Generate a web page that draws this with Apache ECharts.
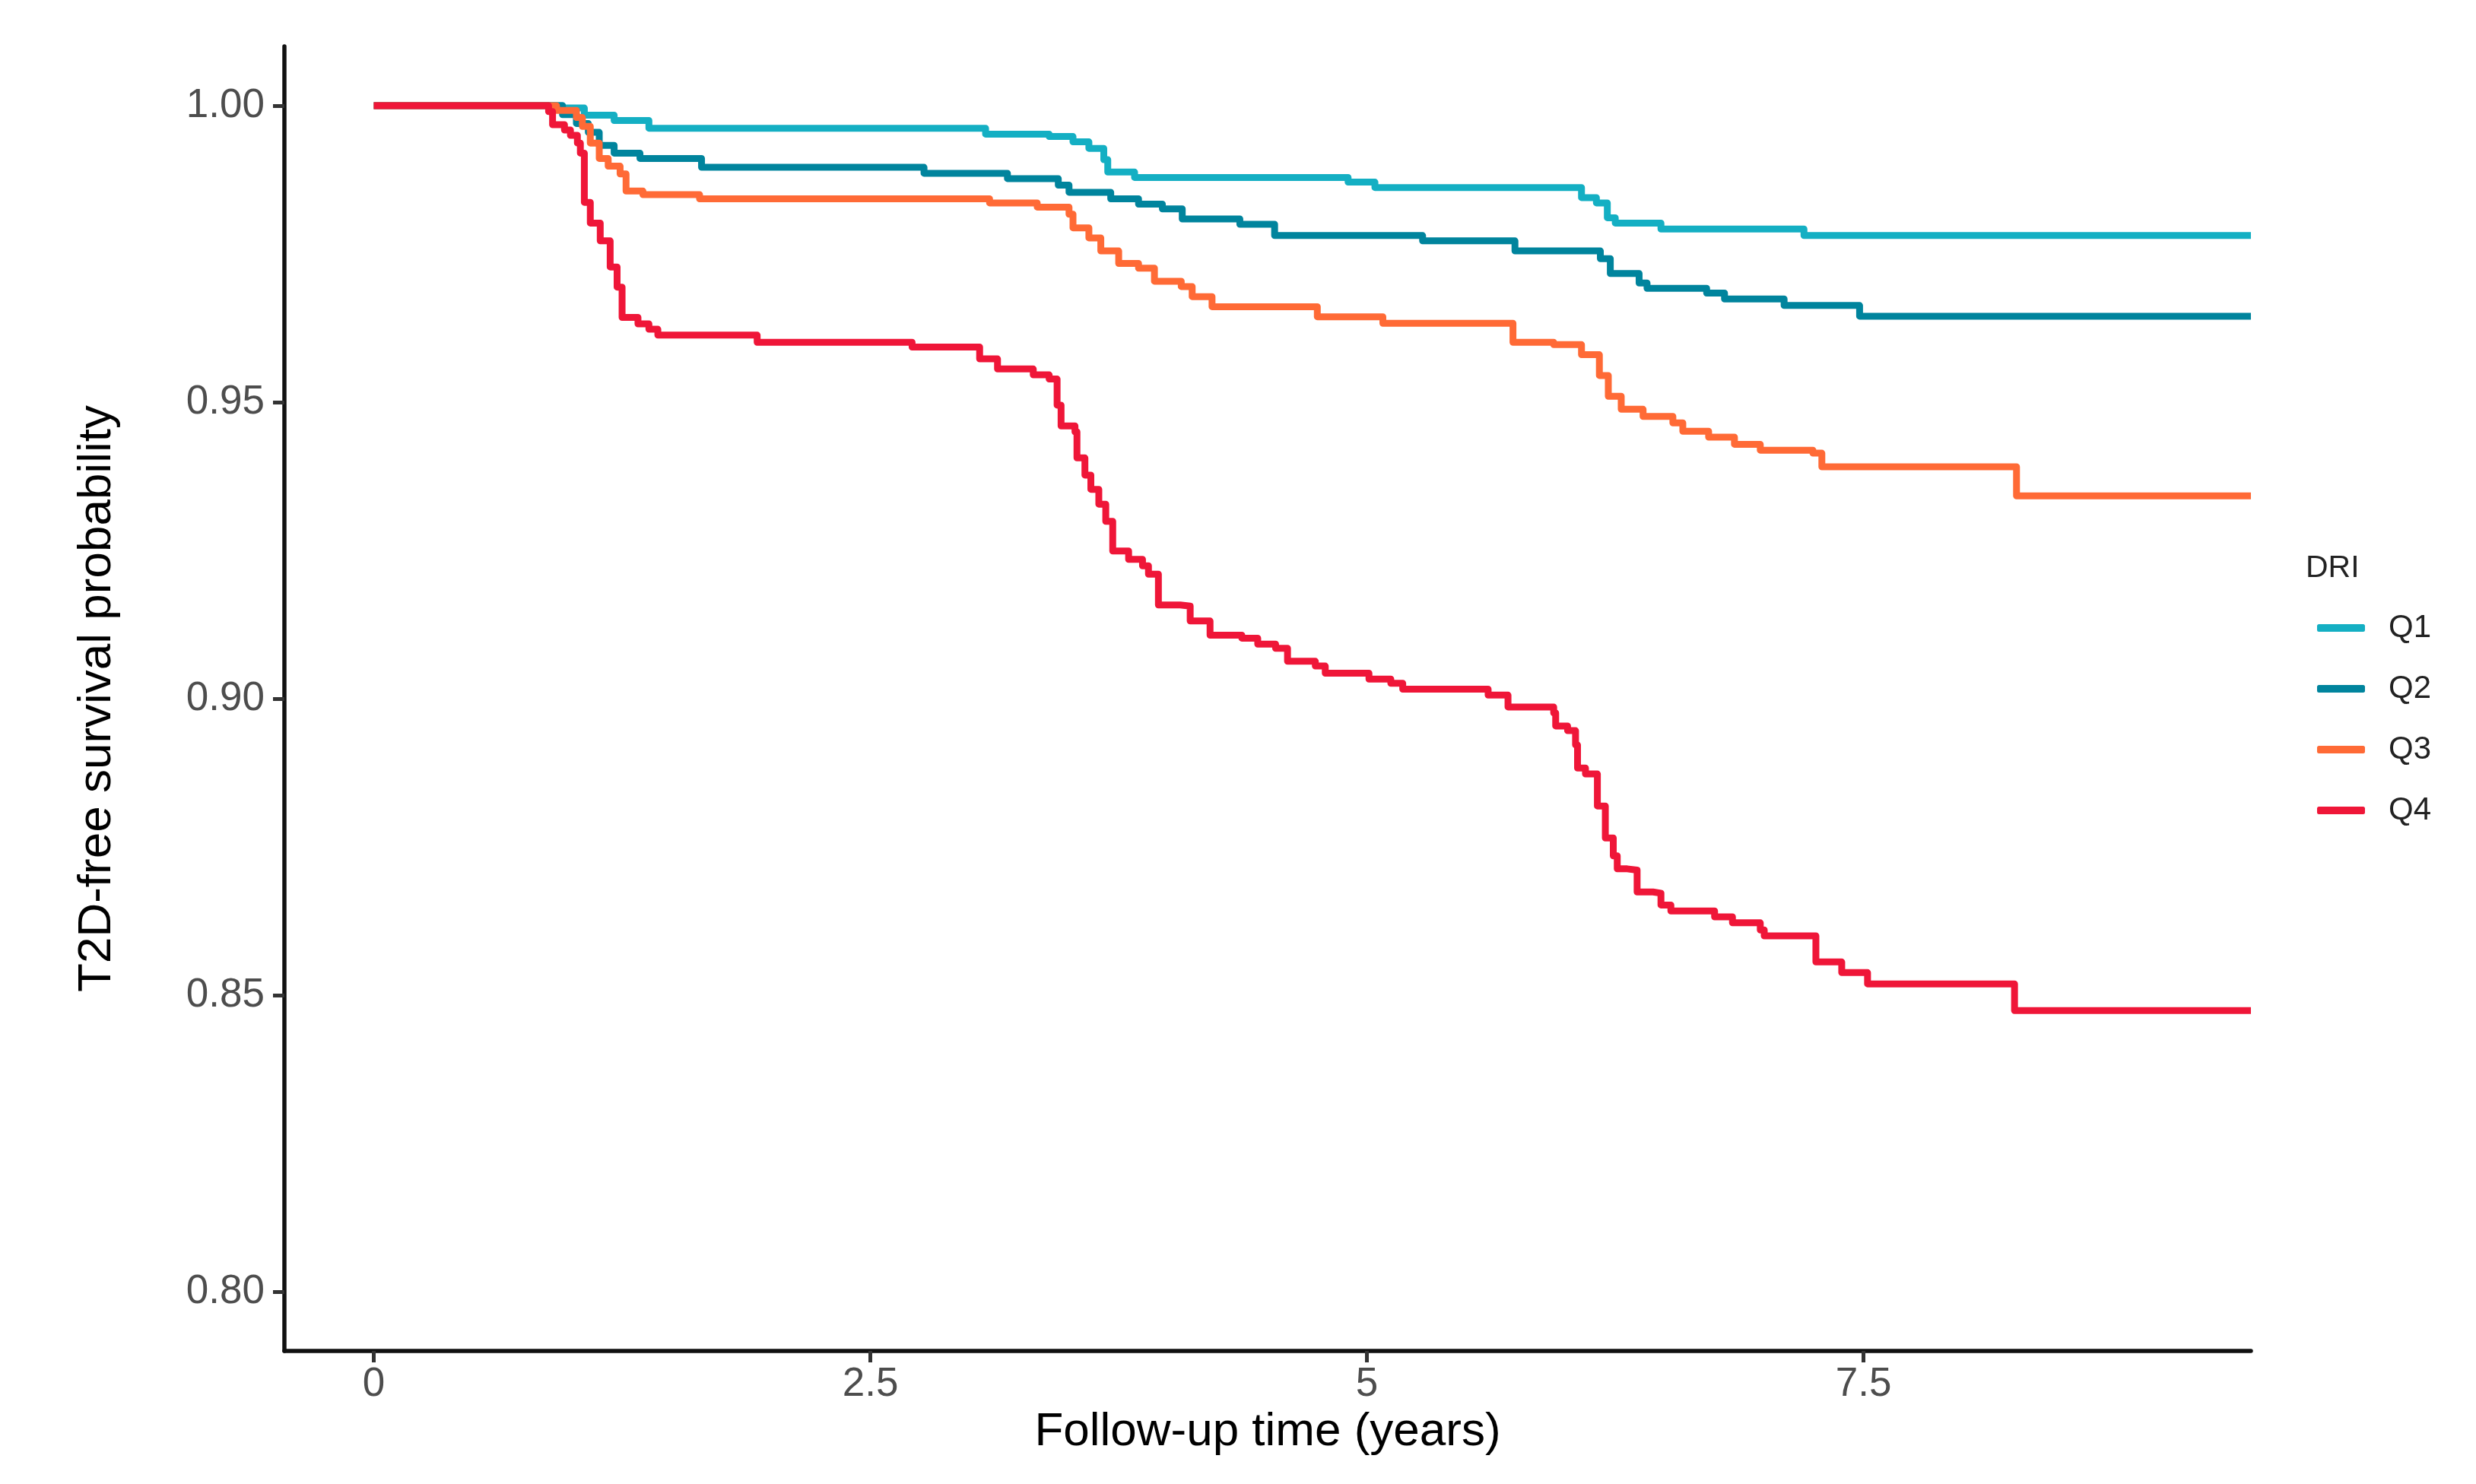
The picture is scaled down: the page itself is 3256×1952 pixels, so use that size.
<!DOCTYPE html>
<html><head><meta charset="utf-8">
<script src="https://cdn.jsdelivr.net/npm/echarts@6/dist/echarts.min.js"></script>
<style>html,body{margin:0;padding:0;background:#fff}#c{width:3256px;height:1952px}</style>
</head><body><div id="c"></div>
<script>
// Follow-up time (years) and T2D-free survival probability per DRI quartile
const seriesNames = ['Q1', 'Q2', 'Q3', 'Q4'];
const xTicks = [0, 2.5, 5, 7.5];
const yTicks = [0.80, 0.85, 0.90, 0.95, 1.00];

const q1Time = [0, 0.88, 0.95, 1.06, 1.21, 1.385, 3.08, 3.40, 3.52, 3.60, 3.675, 3.695, 3.83, 4.905, 5.04, 6.08, 6.155, 6.21, 6.25, 6.48, 7.20, 9.45];
const q1Surv = [1, 1, 0.9996, 0.9984, 0.9975, 0.9962, 0.9952, 0.9948, 0.9939, 0.9928, 0.9909, 0.9888, 0.9879, 0.9871, 0.9862, 0.9845, 0.9836, 0.9811, 0.9802, 0.9792, 0.9781, 0.9781];

const q2Time = [0, 0.88, 0.95, 1.02, 1.08, 1.135, 1.21, 1.34, 1.65, 2.77, 3.19, 3.446, 3.50, 3.71, 3.85, 3.97, 4.07, 4.36, 4.535, 5.28, 5.745, 6.175, 6.225, 6.37, 6.41, 6.71, 6.80, 7.10, 7.48, 9.45];
const q2Surv = [1, 1, 0.9985, 0.997, 0.9955, 0.9933, 0.992, 0.9911, 0.9896, 0.9886, 0.9877, 0.9866, 0.9854, 0.9843, 0.9834, 0.9826, 0.9809, 0.98, 0.9781, 0.9772, 0.9755, 0.9742, 0.9717, 0.9701, 0.9692, 0.9684, 0.9674, 0.9663, 0.9645, 0.9645];

const q3Time = [0, 0.88, 0.92, 1.02, 1.05, 1.09, 1.135, 1.18, 1.24, 1.27, 1.355, 1.64, 3.10, 3.34, 3.50, 3.52, 3.60, 3.66, 3.75, 3.85, 3.93, 4.065, 4.12, 4.22, 4.75, 5.08, 5.735, 5.94, 6.08, 6.17, 6.215, 6.28, 6.39, 6.54, 6.59, 6.72, 6.85, 6.98, 7.245, 7.29, 8.27, 9.45];
const q3Surv = [1, 1, 0.9992, 0.998, 0.9965, 0.9937, 0.9911, 0.9898, 0.9885, 0.9856, 0.985, 0.9843, 0.9836, 0.9829, 0.9817, 0.9794, 0.9777, 0.9755, 0.9734, 0.9726, 0.9704, 0.9695, 0.9678, 0.9661, 0.9644, 0.9633, 0.9601, 0.9597, 0.958, 0.9545, 0.951, 0.9488, 0.9476, 0.9465, 0.9451, 0.9441, 0.9429, 0.9419, 0.9414, 0.9391, 0.9342, 0.9342];

const q4Time = [0, 0.87, 0.88, 0.90, 0.96, 0.99, 1.025, 1.04, 1.06, 1.09, 1.14, 1.19, 1.225, 1.25, 1.33, 1.385, 1.43, 1.93, 2.71, 3.05, 3.14, 3.32, 3.40, 3.44, 3.46, 3.53, 3.54, 3.58, 3.61, 3.65, 3.685, 3.72, 3.80, 3.87, 3.90, 3.95, 4.06, 4.11, 4.21, 4.37, 4.45, 4.54, 4.60, 4.74, 4.79, 5.01, 5.12, 5.18, 5.61, 5.71, 5.94, 5.95, 6.01, 6.05, 6.06, 6.10, 6.16, 6.20, 6.24, 6.26, 6.31, 6.36, 6.44, 6.48, 6.53, 6.75, 6.84, 6.98, 7.00, 7.26, 7.39, 7.52, 8.26, 9.45];
const q4Surv = [1, 1, 0.999, 0.9968, 0.9959, 0.995, 0.9937, 0.992, 0.9837, 0.9802, 0.9772, 0.9728, 0.9694, 0.9643, 0.9632, 0.9623, 0.9613, 0.9601, 0.9593, 0.9573, 0.9556, 0.9546, 0.9539, 0.9495, 0.946, 0.945, 0.9406, 0.9377, 0.9353, 0.9328, 0.9299, 0.9249, 0.9235, 0.9224, 0.921, 0.9158, 0.9156, 0.9131, 0.9107, 0.9102, 0.9092, 0.9085, 0.9063, 0.9055, 0.9043, 0.9033, 0.9026, 0.9016, 0.9006, 0.8986, 0.8976, 0.8954, 0.8946, 0.8922, 0.8883, 0.8873, 0.8819, 0.8765, 0.8735, 0.8713, 0.8711, 0.8674, 0.8672, 0.8652, 0.8642, 0.8632, 0.8622, 0.861, 0.86, 0.8556, 0.8538, 0.8519, 0.8474, 0.8474];

const colors = ['#14AFC3', '#00849D', '#FF6A36', '#EF1638'];
const times = [q1Time, q2Time, q3Time, q4Time];
const survs = [q1Surv, q2Surv, q3Surv, q4Surv];

const FONT = 'Liberation Sans, Arial, sans-serif';
const chart = echarts.init(document.getElementById('c'), null, {renderer: 'canvas'});

const series = seriesNames.map((n, i) => ({
  name: n,
  type: 'line',
  step: 'end',
  showSymbol: false,
  symbol: 'none',
  data: times[i].map((t, k) => [t, survs[i][k]]),
  lineStyle: {color: colors[i], width: 9, cap: 'butt', join: 'round'},
  itemStyle: {color: colors[i]},
  emphasis: {disabled: true},
  z: 2 + i
}));

chart.setOption({
  animation: false,
  backgroundColor: '#fff',
  title: {
    text: 'DRI', left: 3032, top: 727, padding: 0,
    textStyle: {fontFamily: FONT, fontSize: 41, fontWeight: 'normal', color: '#222'}
  },
  legend: {
    orient: 'vertical', left: 3047, top: 805, padding: 0,
    itemWidth: 63, itemHeight: 10, itemGap: 38, icon: 'roundRect',
    data: seriesNames,
    textStyle: {fontFamily: FONT, fontSize: 42, lineHeight: 41, color: '#222', padding: [0, 0, 0, 26]}
  },
  grid: {left: 374, right: 296, top: 61, bottom: 175},
  xAxis: {
    type: 'value', min: -0.45, max: 9.45,
    name: 'Follow-up time (years)', nameLocation: 'middle', nameGap: 75,
    nameTextStyle: {fontFamily: FONT, fontSize: 62, color: '#000'},
    axisLine: {show: true, onZero: false, lineStyle: {color: '#111', width: 5.5}},
    axisTick: {show: true, length: 15, lineStyle: {color: '#333', width: 5}, customValues: xTicks},
    axisLabel: {customValues: xTicks, fontFamily: FONT, fontSize: 53, color: '#4D4D4D', margin: 18,
      formatter: v => String(v)},
    splitLine: {show: false}
  },
  yAxis: {
    type: 'value', min: 0.79, max: 1.01,
    name: 'T2D-free survival probability', nameLocation: 'middle', nameGap: 215, nameRotate: 90,
    nameTextStyle: {fontFamily: FONT, fontSize: 62, color: '#000'},
    axisLine: {show: true, onZero: false, lineStyle: {color: '#111', width: 5.5}},
    axisTick: {show: true, length: 15, lineStyle: {color: '#333', width: 5}, customValues: yTicks},
    axisLabel: {customValues: yTicks, fontFamily: FONT, fontSize: 53, color: '#4D4D4D', margin: 26,
      formatter: v => v.toFixed(2)},
    splitLine: {show: false}
  },
  series: series
});
</script></body></html>
